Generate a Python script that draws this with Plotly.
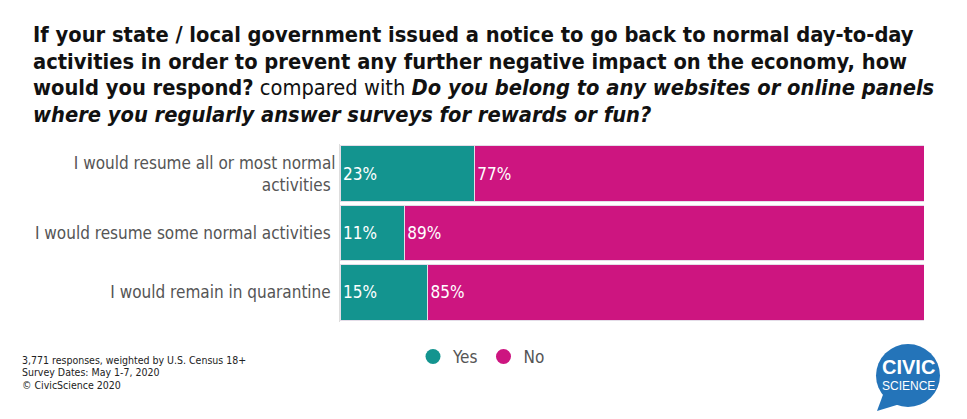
import plotly.graph_objects as go

categories = ["I would resume all or most normal<br>activities",
              "I would resume some normal activities",
              "I would remain in quarantine"]
yes_vals = [23, 11, 15]
no_vals = [77, 89, 85]
series_names = ["Yes", "No"]
colors = ["#13948f", "#cd1580"]

title_lines = [
    "<b>If your state / local government issued a notice to go back to normal day-to-day</b>",
    "<b>activities in order to prevent any further negative impact on the economy, how</b>",
    "<b>would you respond?</b> compared with <b><i>Do you belong to any websites or online panels</i></b>",
    "<b><i>where you regularly answer surveys for rewards or fun?</i></b>",
]
title_y_px = [35, 61, 88, 114]
footnote_lines = ["3,771 responses, weighted by U.S. Census 18+",
                  "Survey Dates: May 1-7, 2020",
                  "© CivicScience 2020"]
footnote_y_px = [360, 372, 385]

FONT = "DejaVu Sans Condensed, sans-serif"
OFF = 8  # page body margin offset
W, H = 967, 419
# target plot area in screen pixels
PX0, PX1, PY0, PY1 = 340, 924, 144, 322
L, T = PX0 - OFF, PY0 - OFF
R, B = W - (PX1 - OFF), H - (PY1 - OFF)
PW, PH = PX1 - PX0, PY1 - PY0


def px(x):
    return (x - PX0) / PW


def py(y):
    return (PY1 - y) / PH


fig = go.Figure()
for name, vals, col in zip(series_names, [yes_vals, no_vals], colors):
    fig.add_trace(go.Bar(
        y=categories, x=vals, orientation="h", name=name,
        marker=dict(color=col, line=dict(color="#e4dde8", width=1)),
        text=[f"{v}%" for v in vals], textposition="inside",
        insidetextanchor="start", textangle=0,
        textfont=dict(color="white", size=17, family=FONT),
        showlegend=False, hoverinfo="skip",
    ))
    fig.add_trace(go.Scatter(
        x=[None], y=[None], mode="markers", name=name,
        marker=dict(color=col, size=15, symbol="circle"),
        showlegend=True,
    ))

annotations = []
for line, yy in zip(title_lines, title_y_px):
    annotations.append(dict(text=line, xref="paper", yref="paper", x=px(31), y=py(yy),
                            xanchor="left", yanchor="middle", align="left", showarrow=False,
                            font=dict(size=21.7, color="#111111", family=FONT)))
for line, yy in zip(footnote_lines, footnote_y_px):
    annotations.append(dict(text=line, xref="paper", yref="paper", x=px(20), y=py(yy),
                            xanchor="left", yanchor="middle", align="left", showarrow=False,
                            font=dict(size=10.5, color="#222222", family=FONT)))
annotations += [
    dict(text="<b>CIVIC</b>", xref="paper", yref="paper", x=px(908), y=py(367),
         xanchor="center", yanchor="middle", showarrow=False,
         font=dict(size=20, color="white", family="Liberation Sans, sans-serif")),
    dict(text="SCIENCE", xref="paper", yref="paper", x=px(908), y=py(386),
         xanchor="center", yanchor="middle", showarrow=False,
         font=dict(size=12, color="white", family="Liberation Sans, sans-serif")),
]

fig.update_layout(
    width=W, height=H,
    barmode="stack", bargap=0.06,
    plot_bgcolor="white", paper_bgcolor="white",
    margin=dict(l=L, r=R, t=T, b=B, autoexpand=False),
    font=dict(family=FONT, color="#555555"),
    xaxis=dict(range=[0, 100], visible=False, fixedrange=True),
    yaxis=dict(autorange="reversed", tickfont=dict(size=17, color="#555555", family=FONT),
               showline=True, linecolor="#dddddd", linewidth=1, ticks="", ticklen=0,
               ticksuffix=" ", showgrid=False),
    legend=dict(orientation="h", x=px(413), xref="paper", xanchor="left",
                y=py(357), yanchor="middle", font=dict(size=17, color="#555555", family=FONT),
                traceorder="normal", itemwidth=30),
    annotations=annotations,
    shapes=[
        dict(type="path", xref="paper", yref="paper", layer="above",
             path=("M {:.4f},{:.4f} L {:.4f},{:.4f} L {:.4f},{:.4f} Z").format(
                 px(884), py(392), px(877), py(411), px(900), py(404)),
             fillcolor="#2474b9", line=dict(width=0)),
        dict(type="circle", xref="paper", yref="paper", layer="above",
             x0=px(876), x1=px(940), y0=py(407), y1=py(344),
             fillcolor="#2474b9", line=dict(width=0)),
    ],
)

fig.write_html("out.html")
